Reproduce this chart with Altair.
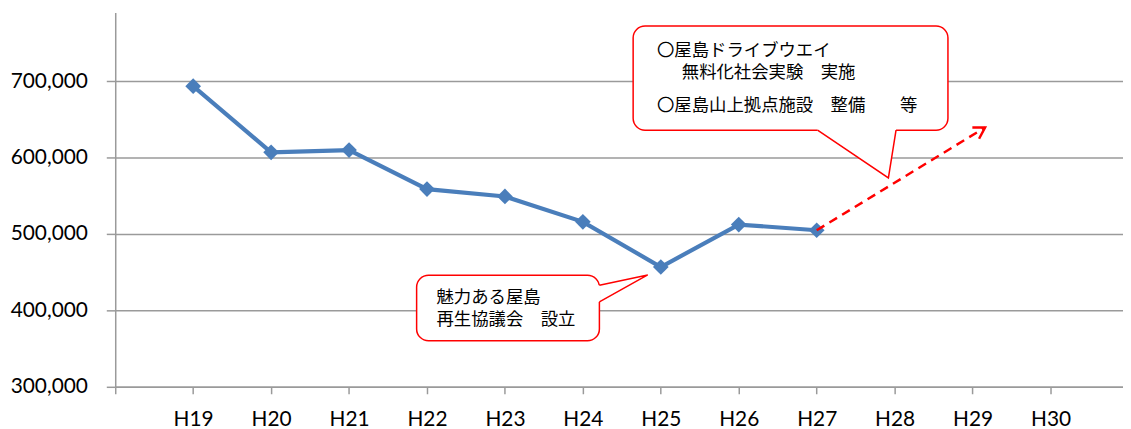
import altair as alt
import pandas as pd

# ---- data ----
years = ["H19", "H20", "H21", "H22", "H23", "H24", "H25", "H26", "H27", "H28", "H29", "H30"]
visitors = [693500, 606900, 609900, 558800, 549200, 515900, 456800, 512400, 504900]
y_ticks = [300000, 400000, 500000, 600000, 700000]

# projected trend arrow (from H27 towards the upper right)
arrow_x = [9, 11.16]
arrow_y = [504900, 639400]

# callout boxes (data coordinates)
box_x = [3.867, 6.645]
box_x2 = [6.212, 10.684]
box_y = [446000, 772400]
box_y2 = [360200, 635900]

# callout tails: attach point A -> tip -> attach point B
tail_id = ["t1", "t1", "t1", "t2", "t2", "t2"]
tail_x = [6.212, 6.832, 6.212, 9.011, 9.920, 10.018]
tail_y = [433000, 446400, 411100, 635900, 573500, 635900]

# callout text
text_lines = ["魅力ある屋島", "再生協議会　設立",
              "〇屋島ドライブウエイ", "無料化社会実験　実施", "〇屋島山上拠点施設　整備　　等"]
text_x = [4.122, 4.122, 6.951, 7.269, 6.951]
text_y = [416500, 387300, 738900, 710300, 668000]

BLUE = "#4a7ebb"
RED = "#ff0000"
GRID = "#9a9a9a"

x_scale = alt.Scale(domain=[0, 12.93], nice=False, zero=False)
y_scale = alt.Scale(domain=[300000, 790000], nice=False, zero=False)

x_label_expr = "[" + ",".join(["''"] + ["'%s'" % y for y in years]) + "][datum.value]"
y_label_expr = "format(datum.value, ',')"


def X(field):
    return alt.X(field, type="quantitative", scale=x_scale, title=None,
                 axis=alt.Axis(values=list(range(0, len(years) + 1)), labelExpr=x_label_expr,
                               grid=False, tickSize=7, tickColor=GRID, tickWidth=1.5,
                               domainColor=GRID, domainWidth=1.5, labelPadding=15,
                               labelFont="Lato", labelFontSize=21, labelColor="#000000",
                               labelOverlap=False, labelFlush=False))


def Y(field):
    return alt.Y(field, type="quantitative", scale=y_scale, title=None,
                 axis=alt.Axis(values=y_ticks, labelExpr=y_label_expr, grid=True,
                               gridColor=GRID, gridWidth=1.5, tickSize=9, tickColor=GRID,
                               tickWidth=1.5, domainColor=GRID, domainWidth=1.5,
                               labelPadding=19, labelFont="Lato", labelFontSize=21,
                               labelColor="#000000", minExtent=108, maxExtent=108,
                               labelOverlap=False))


df = pd.DataFrame({"x": list(range(1, len(visitors) + 1)), "y": visitors})
df_arrow = pd.DataFrame({"x": arrow_x, "y": arrow_y})
df_head = pd.DataFrame({"x": [arrow_x[-1]], "y": [arrow_y[-1]]})
df_box = pd.DataFrame({"x": box_x, "x2": box_x2, "y": box_y, "y2": box_y2})
df_tail = pd.DataFrame({"id": tail_id, "x": tail_x, "y": tail_y, "o": [0, 1, 2, 0, 1, 2]})
t2 = df_tail[df_tail["id"] == "t2"].copy()
t2["ybase"] = box_y2[1]
df_gap = pd.DataFrame({
    "x": [tail_x[0], tail_x[3]], "x2": [tail_x[2], tail_x[5]],
    "y": [tail_y[0], tail_y[3]], "y2": [tail_y[2], tail_y[5]]})
df_text = pd.DataFrame({"x": text_x, "y": text_y, "t": text_lines})

line = alt.Chart(df).mark_line(color=BLUE, strokeWidth=4.2).encode(x=X("x"), y=Y("y"))
points = alt.Chart(df).mark_point(shape="diamond", filled=True, size=250, color=BLUE,
                                  opacity=1).encode(x=X("x"), y=Y("y"))
arrow = alt.Chart(df_arrow).mark_line(color=RED, strokeWidth=2.5,
                                      strokeDash=[9, 6]).encode(x=X("x"), y=Y("y"))
head = alt.Chart(df_head).mark_point(shape="M-0.6,1L0,0L0.6,1", filled=False, color=RED,
                                     strokeWidth=2.5, size=480, angle=59,
                                     opacity=1).encode(x=X("x"), y=Y("y"))
tail_fill = alt.Chart(t2).mark_area(color="white", opacity=1).encode(
    x=X("x"), y=Y("y"), y2="ybase")
boxes = alt.Chart(df_box).mark_rect(fill="white", stroke=RED, strokeWidth=1.5,
                                    cornerRadius=12).encode(
    x=X("x"), x2="x2", y=Y("y"), y2="y2")
gaps = alt.Chart(df_gap).mark_rule(color="white", strokeWidth=3).encode(
    x=X("x"), x2="x2", y=Y("y"), y2="y2")
tails = alt.Chart(df_tail).mark_line(color=RED, strokeWidth=1.5).encode(
    x=X("x"), y=Y("y"), detail="id:N", order="o:Q")
texts = alt.Chart(df_text).mark_text(align="left", baseline="middle", font="Noto Sans CJK JP",
                                     fontSize=17.5, color="#000000").encode(
    x=X("x"), y=Y("y"), text="t:N")

chart = alt.layer(line, points, arrow, head, tail_fill, boxes, gaps, tails, texts).properties(
    width=1015, height=377,
    padding={"left": 0, "top": 3, "right": 0, "bottom": 0},
    background="white",
).configure_view(stroke=None)

chart.save("out.html", embed_options={"renderer": "svg", "actions": False})
